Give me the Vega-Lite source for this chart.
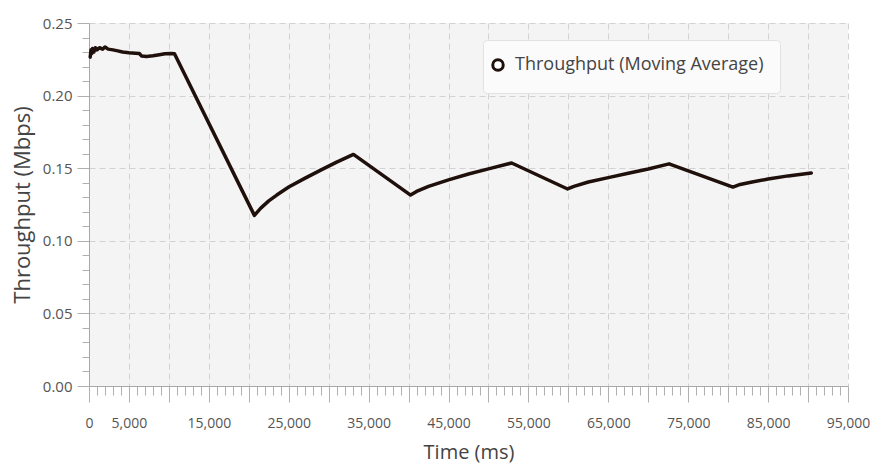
{
  "$schema": "https://vega.github.io/schema/vega-lite/v6.json",
  "width": 759,
  "height": 363,
  "autosize": {"type": "none"},
  "padding": {"left": 89, "top": 23, "right": 22, "bottom": 87},
  "background": "white",
  "config": {
    "font": "Open Sans",
    "view": {"fill": "#f4f4f4", "stroke": null}
  },
  "data": {
    "values": [
      {"t": 150, "v": 0.2265, "s": "Throughput (Moving Average)"},
      {"t": 250, "v": 0.2315, "s": "Throughput (Moving Average)"},
      {"t": 350, "v": 0.2290, "s": "Throughput (Moving Average)"},
      {"t": 450, "v": 0.2325, "s": "Throughput (Moving Average)"},
      {"t": 600, "v": 0.2300, "s": "Throughput (Moving Average)"},
      {"t": 800, "v": 0.2330, "s": "Throughput (Moving Average)"},
      {"t": 1000, "v": 0.2315, "s": "Throughput (Moving Average)"},
      {"t": 1300, "v": 0.2330, "s": "Throughput (Moving Average)"},
      {"t": 1700, "v": 0.2320, "s": "Throughput (Moving Average)"},
      {"t": 2000, "v": 0.2335, "s": "Throughput (Moving Average)"},
      {"t": 2400, "v": 0.2320, "s": "Throughput (Moving Average)"},
      {"t": 3000, "v": 0.2315, "s": "Throughput (Moving Average)"},
      {"t": 3600, "v": 0.2308, "s": "Throughput (Moving Average)"},
      {"t": 4200, "v": 0.2300, "s": "Throughput (Moving Average)"},
      {"t": 5000, "v": 0.2295, "s": "Throughput (Moving Average)"},
      {"t": 5800, "v": 0.2292, "s": "Throughput (Moving Average)"},
      {"t": 6300, "v": 0.2290, "s": "Throughput (Moving Average)"},
      {"t": 6600, "v": 0.2272, "s": "Throughput (Moving Average)"},
      {"t": 7200, "v": 0.2270, "s": "Throughput (Moving Average)"},
      {"t": 8000, "v": 0.2275, "s": "Throughput (Moving Average)"},
      {"t": 8800, "v": 0.2282, "s": "Throughput (Moving Average)"},
      {"t": 9500, "v": 0.2288, "s": "Throughput (Moving Average)"},
      {"t": 10300, "v": 0.2290, "s": "Throughput (Moving Average)"},
      {"t": 10700, "v": 0.2288, "s": "Throughput (Moving Average)"},
      {"t": 20700, "v": 0.1175, "s": "Throughput (Moving Average)"},
      {"t": 21500, "v": 0.1225, "s": "Throughput (Moving Average)"},
      {"t": 22500, "v": 0.1275, "s": "Throughput (Moving Average)"},
      {"t": 23500, "v": 0.1315, "s": "Throughput (Moving Average)"},
      {"t": 25000, "v": 0.1370, "s": "Throughput (Moving Average)"},
      {"t": 27000, "v": 0.1430, "s": "Throughput (Moving Average)"},
      {"t": 29000, "v": 0.1487, "s": "Throughput (Moving Average)"},
      {"t": 31000, "v": 0.1542, "s": "Throughput (Moving Average)"},
      {"t": 33100, "v": 0.1595, "s": "Throughput (Moving Average)"},
      {"t": 40250, "v": 0.1315, "s": "Throughput (Moving Average)"},
      {"t": 41000, "v": 0.1340, "s": "Throughput (Moving Average)"},
      {"t": 42500, "v": 0.1375, "s": "Throughput (Moving Average)"},
      {"t": 45000, "v": 0.1420, "s": "Throughput (Moving Average)"},
      {"t": 47500, "v": 0.1460, "s": "Throughput (Moving Average)"},
      {"t": 50000, "v": 0.1495, "s": "Throughput (Moving Average)"},
      {"t": 52900, "v": 0.1536, "s": "Throughput (Moving Average)"},
      {"t": 59900, "v": 0.1357, "s": "Throughput (Moving Average)"},
      {"t": 60700, "v": 0.1375, "s": "Throughput (Moving Average)"},
      {"t": 62500, "v": 0.1405, "s": "Throughput (Moving Average)"},
      {"t": 65000, "v": 0.1435, "s": "Throughput (Moving Average)"},
      {"t": 67500, "v": 0.1465, "s": "Throughput (Moving Average)"},
      {"t": 70000, "v": 0.1495, "s": "Throughput (Moving Average)"},
      {"t": 72600, "v": 0.1530, "s": "Throughput (Moving Average)"},
      {"t": 80600, "v": 0.1370, "s": "Throughput (Moving Average)"},
      {"t": 81500, "v": 0.1388, "s": "Throughput (Moving Average)"},
      {"t": 83000, "v": 0.1405, "s": "Throughput (Moving Average)"},
      {"t": 85000, "v": 0.1425, "s": "Throughput (Moving Average)"},
      {"t": 87500, "v": 0.1447, "s": "Throughput (Moving Average)"},
      {"t": 90400, "v": 0.1467, "s": "Throughput (Moving Average)"}
    ]
  },
  "mark": {"type": "line", "strokeWidth": 3.5, "strokeJoin": "round", "strokeCap": "round"},
  "encoding": {
    "x": {
      "field": "t",
      "type": "quantitative",
      "scale": {"domain": [0, 95000], "nice": false, "zero": false},
      "axis": {
        "title": "Time (ms)",
        "titleFontSize": 20,
        "titleFontWeight": "normal",
        "titleColor": "#444444",
        "titlePadding": 12,
        "tickCount": 95,
        "labelExpr": "datum.value === 0 ? '0' : (datum.value % 10000 === 5000 ? format(datum.value, ',') : '')",
        "labelOverlap": false,
        "labelFlush": false,
        "labelFontSize": 14,
        "labelColor": "#555555",
        "labelPadding": 14,
        "domainColor": "#a8a8a8",
        "tickColor": "#b0b0b0",
        "tickSize": {"condition": {"test": "datum.value % 5000 === 0", "value": 16}, "value": 9},
        "grid": true,
        "gridColor": "#d2d2d2",
        "gridDash": [6, 4],
        "gridOpacity": {"condition": {"test": "datum.value % 5000 === 0", "value": 1}, "value": 0}
      }
    },
    "y": {
      "field": "v",
      "type": "quantitative",
      "scale": {"domain": [0, 0.25], "nice": false},
      "axis": {
        "title": "Throughput (Mbps)",
        "titleFontSize": 22,
        "titleFontWeight": "normal",
        "titleColor": "#444444",
        "titlePadding": 8,
        "values": [0, 0.01, 0.02, 0.03, 0.04, 0.05, 0.06, 0.07, 0.08, 0.09, 0.1, 0.11, 0.12, 0.13, 0.14, 0.15, 0.16, 0.17, 0.18, 0.19, 0.2, 0.21, 0.22, 0.23, 0.24, 0.25],
        "labelExpr": "round(datum.value * 100) % 5 === 0 ? format(datum.value, '.2f') : ''",
        "labelOverlap": false,
        "labelFlush": false,
        "labelFontSize": 15,
        "labelColor": "#555555",
        "labelPadding": 5,
        "domainColor": "#a8a8a8",
        "tickColor": "#b0b0b0",
        "tickSize": {"condition": {"test": "round(datum.value * 100) % 5 === 0", "value": 12}, "value": 7},
        "grid": true,
        "gridColor": "#d2d2d2",
        "gridDash": [6, 4],
        "gridOpacity": {"condition": {"test": "round(datum.value * 100) % 5 === 0", "value": 1}, "value": 0}
      }
    },
    "color": {
      "field": "s",
      "type": "nominal",
      "scale": {"range": ["#1f100b"]},
      "legend": {
        "title": null,
        "orient": "none",
        "legendX": 394,
        "legendY": 17,
        "padding": 16,
        "fillColor": "#fbfbfb",
        "strokeColor": "#e2e2e2",
        "cornerRadius": 4,
        "labelFontSize": 18,
        "labelLimit": 0,
        "labelColor": "#444444",
        "labelOffset": 8,
        "symbolOffset": -10,
        "symbolType": "circle",
        "symbolSize": 110,
        "symbolStrokeWidth": 3,
        "symbolFillColor": "white",
        "symbolStrokeColor": "#1f100b",
        "encode": {
          "symbols": {
            "update": {
              "fill": {"value": "white"},
              "stroke": {"value": "#1f100b"},
              "strokeWidth": {"value": 3},
              "shape": {"value": "circle"},
              "size": {"value": 110}
            }
          }
        }
      }
    }
  }
}
